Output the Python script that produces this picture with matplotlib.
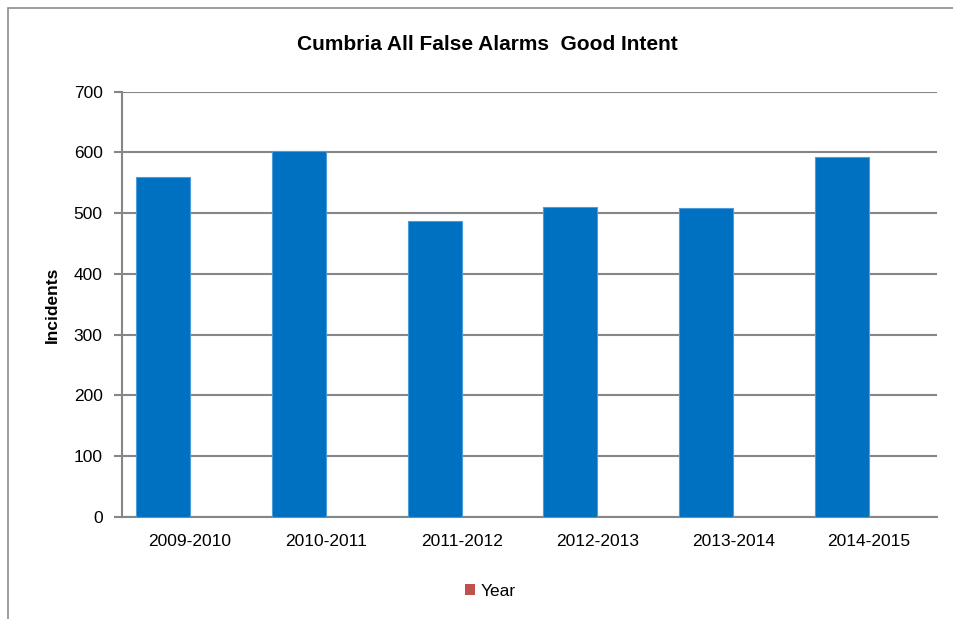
import matplotlib.pyplot as plt
from matplotlib.patches import Rectangle, Patch

# chart data
years = ['2009-2010', '2010-2011', '2011-2012', '2012-2013', '2013-2014', '2014-2015']
incidents = [559, 602, 487, 511, 509, 592]
y_ticks = [0, 100, 200, 300, 400, 500, 600, 700]

plt.rcParams['font.family'] = ['Liberation Sans Narrow', 'Liberation Sans', 'DejaVu Sans']

fig = plt.figure(figsize=(9.54, 6.19), dpi=100)
ax = fig.add_axes([122 / 954, 1 - 517 / 619, (937 - 122) / 954, (517 - 91.7) / 619])

# outer chart border (only top and left visible in the reference)
fig.patches.append(Rectangle((8 / 954, -0.1), 1.2, 1 - 8 / 619 + 0.1,
                             transform=fig.transFigure, fill=False,
                             edgecolor='#8c8c8c', linewidth=1.2))

# excel style: two series per category, second one ("Year") is empty
gap = 0.206
bw = (1 - gap) / 2
x = range(len(years))
ax.bar([i - 0.5 + gap / 2 for i in x], incidents, width=bw, align='edge',
       color='#0070C0', edgecolor='#4F9BD9', linewidth=0.8, zorder=3)

ax.set_xlim(-0.5, len(years) - 0.5)
ax.set_ylim(0, 700)
ax.set_yticks(y_ticks)
ax.set_xticks(list(x))
ax.set_xticklabels(years)
ax.tick_params(axis='x', length=0, pad=12, labelsize=12.5)
ax.tick_params(axis='y', length=6, width=1.5, color='#868686', pad=8, labelsize=12.5)
ax.grid(axis='y', color='#868686', linewidth=1.5, zorder=0)
for s in ['top', 'right']:
    ax.spines[s].set_visible(False)
for s in ['left', 'bottom']:
    ax.spines[s].set_color('#868686')
    ax.spines[s].set_linewidth(1.5)

ax.set_ylabel('Incidents', fontsize=12.5, fontweight='bold', labelpad=10)
fig.text(487 / 954, 1 - 45 / 619, 'Cumbria All False Alarms  Good Intent',
         ha='center', va='center', fontsize=15, fontweight='bold')

fig.legend(handles=[Patch(facecolor='#C0504D', label='Year')],
           loc='center', bbox_to_anchor=(490 / 954, 1 - 591 / 619),
           frameon=False, fontsize=12.5, handlelength=0.6, handleheight=0.6,
           handletextpad=0.3)

fig.savefig('out.png', dpi=100)
